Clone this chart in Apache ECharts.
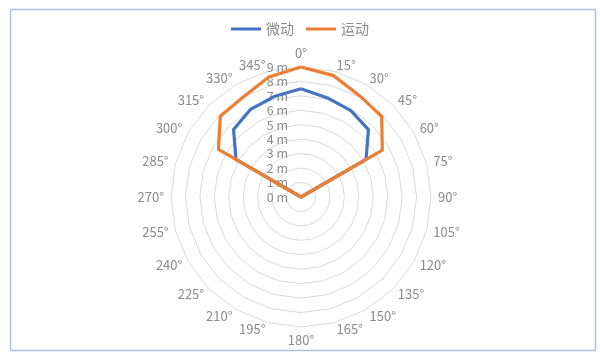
<!DOCTYPE html>
<html>
<head>
<meta charset="utf-8">
<script src="https://cdn.jsdelivr.net/npm/echarts@6/dist/echarts.min.js"></script>
<style>
html,body{margin:0;padding:0;background:#fff;}
#main{width:600px;height:355px;}
</style>
</head>
<body>
<div id="main"></div>
<script>
// Directions (clockwise from top)
const angles = ['0°','15°','30°','45°','60°','75°','90°','105°','120°','135°','150°','165°',
  '180°','195°','210°','225°','240°','255°','270°','285°','300°','315°','330°','345°'];
const seriesNames = ['微动', '运动'];
// values in metres, one per direction above
const weidong = [7.5, 7.1, 6.9, 6.6, 5.2, 0, 0, 0, 0, 0, 0, 0, 0, 0, 0, 0, 0, 0, 0, 0, 5.2, 6.6, 7.0, 7.2];
const yundong = [9.0, 8.7, 8.1, 7.9, 6.5, 0, 0, 0, 0, 0, 0, 0, 0, 0, 0, 0, 0, 0, 0, 0, 6.6, 7.9, 8.0, 8.6];
const radialMin = 0;
const radialMax = 9;
const radialUnit = ' m';

// ECharts radar lays indicators counter-clockwise; reorder so they run clockwise.
const n = angles.length;
const order = angles.map((_, k) => (n - k) % n);
const font = '"Noto Sans CJK SC", "Noto Sans", sans-serif';
const indicator = order.map((idx, k) => {
  const ind = { name: angles[idx], min: radialMin, max: radialMax };
  if (k === 0) {
    ind.axisLabel = {
      show: true, color: '#8a8a8a', fontSize: 12.5, fontFamily: font, margin: 13,
      formatter: v => v + radialUnit
    };
  }
  return ind;
});
const reorder = arr => order.map(i => arr[i]);

const chart = echarts.init(document.getElementById('main'), null, { renderer: 'canvas' });
chart.setOption({
  animation: false,
  backgroundColor: '#fff',
  color: ['#4472C4', '#ED7D31'],
  graphic: [{
    type: 'rect', left: 8, top: 7, z: -1,
    shape: { width: 585, height: 341 },
    style: { fill: 'none', stroke: '#b1bfdb', lineWidth: 1.5 }
  }],
  legend: {
    top: 17, left: 'center',
    data: seriesNames,
    icon: 'rect', itemWidth: 30, itemHeight: 3, itemGap: 12,
    textStyle: { color: '#8a8a8a', fontSize: 14, fontFamily: font }
  },
  radar: {
    center: [301, 197],
    radius: 130,
    startAngle: 90,
    shape: 'polygon',
    splitNumber: 9,
    indicator: indicator,
    nameGap: 7,
    axisName: { color: '#8a8a8a', fontSize: 13, fontFamily: font },
    axisLine: { show: false },
    axisTick: { show: false },
    splitArea: { show: false },
    splitLine: { lineStyle: { color: '#d9d9d9', width: 1 } }
  },
  series: [{
    type: 'radar',
    symbol: 'none',
    data: [
      { name: seriesNames[0], value: reorder(weidong), lineStyle: { width: 3.2, color: '#4472C4' }, itemStyle: { color: '#4472C4' } },
      { name: seriesNames[1], value: reorder(yundong), lineStyle: { width: 3.2, color: '#ED7D31' }, itemStyle: { color: '#ED7D31' } }
    ]
  }]
});
</script>
</body>
</html>
